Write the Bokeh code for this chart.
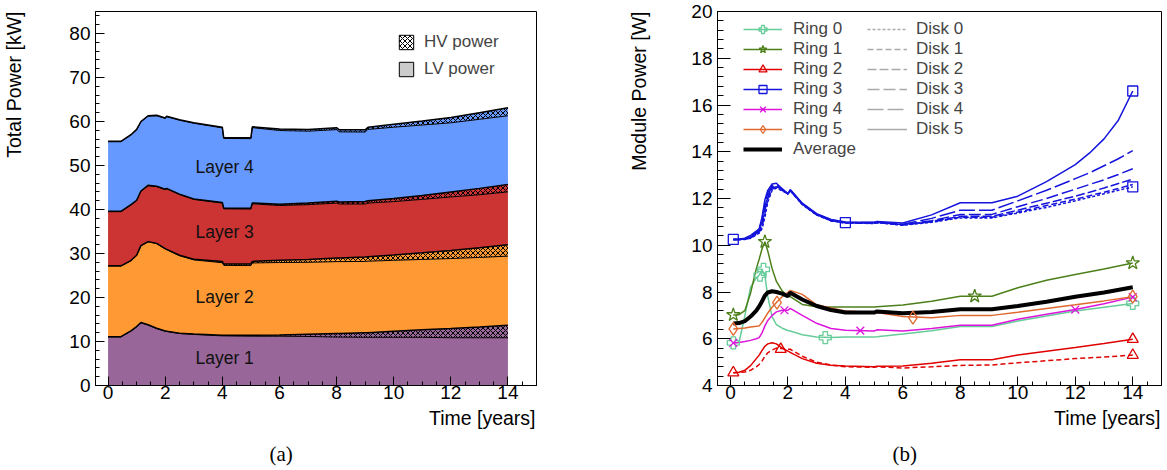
import numpy as np
from bokeh.plotting import figure
from bokeh.models import Range1d, SingleIntervalTicker, Label, Legend, LegendItem, Title
from bokeh.layouts import row
from bokeh.embed import file_html
from bokeh.resources import INLINE

FONT = "Liberation Sans"
SERIF = "Liberation Serif"

# ---------------- panel (a): stacked total power per layer ----------------
t_a = [0, 0.45, 0.8, 1.0, 1.15, 1.4, 1.7, 2.0, 2.05, 2.5, 3.0, 4.0, 4.05, 5.0, 5.05,
       6.0, 7.0, 8.0, 8.1, 9.0, 9.1, 10.0, 11.0, 12.0, 13.0, 14.0]
# cumulative total (LV+HV) at the top of each layer, as read from the stack [kW]
layer1_top = [11.1, 11.1, 12.4, 13.4, 14.3, 13.8, 13.0, 12.4, 12.35, 11.9, 11.7, 11.4, 11.4, 11.4, 11.4,
              11.5, 11.65, 11.8, 11.8, 12.0, 12.0, 12.35, 12.65, 12.95, 13.3, 13.7]
layer2_top = [27.2, 27.2, 28.4, 29.6, 31.8, 32.7, 32.3, 31.1, 30.95, 29.6, 28.7, 28.2, 27.6, 27.6, 28.2,
              28.45, 28.65, 28.95, 28.95, 29.2, 29.25, 29.65, 30.15, 30.7, 31.3, 32.0]
layer3_top = [39.6, 39.6, 41.1, 42.1, 44.2, 45.5, 45.3, 44.6, 44.8, 43.5, 42.4, 41.6, 40.3, 40.3, 41.5,
              41.2, 41.5, 41.9, 41.7, 41.8, 42.0, 42.5, 43.2, 44.0, 44.8, 45.7]
layer4_top = [55.5, 55.5, 57.0, 58.2, 60.0, 61.3, 61.4, 60.8, 61.2, 60.4, 59.7, 58.7, 56.3, 56.3, 58.8,
              58.3, 58.2, 58.6, 58.1, 58.1, 58.7, 59.4, 60.1, 60.9, 62.0, 63.1]
# HV power of each layer [kW]
layer1_hv = [0.05, 0.05, 0.05, 0.05, 0.05, 0.05, 0.05, 0.05, 0.05, 0.08, 0.1, 0.12, 0.12, 0.2, 0.2,
             0.3, 0.5, 0.8, 0.8, 1.05, 1.05, 1.4, 1.7, 2.1, 2.45, 2.85]
layer2_hv = [0.05, 0.05, 0.05, 0.05, 0.05, 0.05, 0.05, 0.05, 0.05, 0.1, 0.15, 0.3, 0.3, 0.35, 0.35,
             0.5, 0.65, 0.8, 0.8, 1.0, 1.0, 1.2, 1.5, 1.85, 2.2, 2.6]
layer3_hv = [0.1, 0.1, 0.1, 0.1, 0.1, 0.1, 0.1, 0.1, 0.1, 0.1, 0.1, 0.15, 0.15, 0.2, 0.2,
             0.3, 0.4, 0.45, 0.45, 0.55, 0.55, 0.7, 0.9, 1.15, 1.45, 1.7]
layer4_hv = [0.1, 0.1, 0.1, 0.1, 0.1, 0.1, 0.1, 0.1, 0.1, 0.1, 0.1, 0.15, 0.15, 0.2, 0.2,
             0.35, 0.4, 0.45, 0.45, 0.5, 0.5, 0.7, 0.9, 1.2, 1.5, 1.8]
layer_names = ["Layer 1", "Layer 2", "Layer 3", "Layer 4"]
layer_colors = ["#986699", "#FF9933", "#CC3333", "#6699FF"]
layer_label_x = [3.06, 3.06, 3.06, 3.06]
layer_label_y = [6.2, 20.2, 34.8, 49.7]

# ---------------- panel (b): module power per ring ----------------
t_b = [0.1, 0.3, 0.5, 0.7, 0.9, 1.0, 1.1, 1.2, 1.3, 1.45, 1.6, 1.8, 2.0, 2.08, 2.5,
       3.0, 3.5, 4.0, 5.0, 5.1, 6.0, 7.0, 8.0, 9.1, 10.0, 11.0, 12.0, 13.0, 14.0]
ring0 = [5.82, 5.85, 6.97, 8.2, 8.6, 8.72, 8.95, 8.7, 7.8, 6.95, 6.6, 6.45, 6.35, 6.33, 6.17,
         6.07, 6.05, 6.07, 6.08, 6.09, 6.2, 6.34, 6.52, 6.52, 6.76, 6.97, 7.19, 7.35, 7.51]
ring1 = [7.02, 7.03, 7.2, 7.95, 9.0, 9.4, 9.85, 10.15, 9.75, 9.0, 8.45, 8.05, 7.82, 7.8, 7.47,
         7.37, 7.36, 7.36, 7.36, 7.37, 7.44, 7.6, 7.82, 7.82, 8.18, 8.5, 8.75, 8.98, 9.24]
ring2_disk5 = [4.55, 4.57, 4.65, 4.85, 5.15, 5.3, 5.5, 5.68, 5.78, 5.83, 5.78, 5.6, 5.47, 5.42, 5.15,
               4.95, 4.87, 4.83, 4.8, 4.82, 4.83, 4.95, 5.1, 5.1, 5.3, 5.47, 5.63, 5.8, 5.98]
ring2_disk0 = [4.55, 4.56, 4.58, 4.65, 4.8, 4.9, 5.05, 5.25, 5.4, 5.52, 5.6, 5.58, 5.55, 5.55, 5.25,
               5.0, 4.88, 4.8, 4.78, 4.8, 4.75, 4.8, 4.86, 4.88, 4.97, 5.06, 5.15, 5.22, 5.3]
ring4 = [5.82, 5.84, 5.88, 5.93, 6.0, 6.05, 6.25, 6.55, 6.78, 7.0, 7.15, 7.22, 7.22, 7.3, 7.0,
         6.66, 6.44, 6.36, 6.33, 6.38, 6.33, 6.44, 6.58, 6.58, 6.83, 7.05, 7.25, 7.5, 7.78]
ring5 = [6.42, 6.44, 6.46, 6.5, 6.53, 6.55, 6.7, 6.9, 7.1, 7.35, 7.55, 7.8, 7.98, 8.07, 7.9,
         7.45, 7.32, 7.19, 7.12, 7.12, 6.95, 6.9, 7.0, 7.0, 7.13, 7.29, 7.45, 7.62, 7.8]
average = [6.65, 6.67, 6.75, 6.95, 7.2, 7.38, 7.6, 7.85, 7.98, 8.03, 8.0, 7.93, 7.82, 7.97, 7.68,
           7.4, 7.23, 7.12, 7.12, 7.17, 7.09, 7.14, 7.26, 7.26, 7.4, 7.58, 7.8, 7.98, 8.2]

# Ring 3: one curve per disk (finer sampling at the end where they fan out)
t_r3 = [0.1, 0.3, 0.5, 0.7, 0.9, 1.0, 1.1, 1.2, 1.3, 1.45, 1.6, 1.8, 2.0, 2.08, 2.5,
        3.0, 3.5, 4.0, 5.0, 5.1, 6.0, 7.0, 8.0, 9.1, 10.0, 11.0, 12.0, 12.5, 13.0, 13.5, 14.0]
ring3_disk5 = [10.25, 10.26, 10.3, 10.42, 10.6, 10.7, 11.2, 11.95, 12.35, 12.62, 12.65, 12.42, 12.2, 12.38, 11.8,
               11.35, 11.1, 11.0, 10.98, 11.02, 10.95, 11.3, 11.82, 11.82, 12.1, 12.72, 13.45, 13.95, 14.55, 15.35, 16.6]
ring3_disk4 = [10.25, 10.25, 10.28, 10.38, 10.57, 10.68, 11.1, 11.8, 12.25, 12.55, 12.58, 12.4, 12.2, 12.37, 11.78,
               11.33, 11.08, 10.98, 10.97, 11.0, 10.9, 11.15, 11.5, 11.5, 11.9, 12.35, 12.85, 13.1, 13.4, 13.7, 14.05]
ring3_disk3 = [10.25, 10.25, 10.27, 10.35, 10.53, 10.63, 11.0, 11.65, 12.15, 12.5, 12.55, 12.38, 12.2, 12.36, 11.77,
               11.32, 11.07, 10.97, 10.96, 10.99, 10.88, 11.05, 11.32, 11.32, 11.65, 12.0, 12.4, 12.6, 12.8, 13.03, 13.27]
ring3_disk2 = [10.25, 10.25, 10.26, 10.33, 10.5, 10.58, 10.9, 11.5, 12.05, 12.45, 12.5, 12.37, 12.2, 12.35, 11.76,
               11.31, 11.06, 10.96, 10.95, 10.98, 10.88, 11.02, 11.24, 11.24, 11.5, 11.8, 12.1, 12.27, 12.45, 12.64, 12.83]
ring3_disk1 = [10.25, 10.25, 10.26, 10.31, 10.47, 10.55, 10.8, 11.35, 11.95, 12.4, 12.47, 12.35, 12.2, 12.34, 11.75,
               11.3, 11.05, 10.95, 10.94, 10.97, 10.87, 11.0, 11.2, 11.2, 11.42, 11.7, 11.97, 12.12, 12.27, 12.43, 12.6]
ring3_disk0 = [10.25, 10.25, 10.25, 10.3, 10.45, 10.52, 10.7, 11.2, 11.85, 12.35, 12.45, 12.33, 12.2, 12.33, 11.74,
               11.29, 11.04, 10.95, 10.93, 10.96, 10.86, 10.98, 11.17, 11.17, 11.38, 11.62, 11.9, 12.05, 12.2, 12.35, 12.5]

# marker points drawn on the curves
mk0_t = [0.1, 1.03, 1.15, 3.3, 14.0];  mk0_v = [5.82, 8.72, 8.97, 6.05, 7.51]
mk1_t = [0.1, 1.2, 8.5, 14.0];         mk1_v = [7.02, 10.15, 7.82, 9.24]
mk2_t = [0.1, 1.75, 14.0, 14.0];       mk2_v = [4.55, 5.55, 5.98, 5.3]
mk3_t = [0.1, 4.0, 14.0, 14.0];        mk3_v = [10.25, 10.97, 16.6, 12.5]
mk4_t = [0.1, 1.88, 4.52, 12.0, 14.0]; mk4_v = [5.82, 7.22, 6.35, 7.25, 7.78]
mk5_t = [0.1, 1.62, 6.35, 14.0];       mk5_v = [6.42, 7.55, 6.9, 7.8]

ring_names = ["Ring 0", "Ring 1", "Ring 2", "Ring 3", "Ring 4", "Ring 5"]
ring_colors = ["#66CC99", "#4D801A", "#E00000", "#1414DC", "#DC14DC", "#E0682F"]
ring_markers = ["plus", "star", "triangle", "square", "x", "diamond"]
ring_msize = [12, 14, 11, 10, 11, 13]
disk_names = ["Disk 0", "Disk 1", "Disk 2", "Disk 3", "Disk 4", "Disk 5"]
disk_dash = ["3 2", "6 3", "9 3", "12 4", "16 4", "solid"]

H = 470


def style(p, y_interval, y_major_in, y_minor_in, spacer):
    p.xgrid.visible = False
    p.ygrid.visible = False
    p.outline_line_color = "black"
    p.outline_line_width = 1
    p.outline_line_alpha = 1
    p.xaxis.ticker = SingleIntervalTicker(interval=2, num_minor_ticks=4)
    p.yaxis.ticker = SingleIntervalTicker(interval=y_interval, num_minor_ticks=5)
    for ax in (p.xaxis[0], p.yaxis[0]):
        ax.axis_line_color = "black"
        ax.major_tick_line_color = "black"
        ax.minor_tick_line_color = "black"
        ax.major_tick_out = 0
        ax.minor_tick_out = 0
        ax.major_label_text_font = FONT
        ax.major_label_text_font_size = "19px"
        ax.major_label_text_color = "black"
    p.xaxis.major_tick_in = 9
    p.xaxis.minor_tick_in = 4
    p.yaxis.major_tick_in = y_major_in
    p.yaxis.minor_tick_in = y_minor_in
    p.xaxis.major_label_standoff = 0
    p.yaxis.major_label_standoff = 5
    # invisible spacer label: pushes the y title away from the tick labels
    p.yaxis.axis_label = " "
    p.yaxis.axis_label_text_font_size = "1px"
    p.yaxis.axis_label_text_alpha = 0
    p.yaxis.axis_label_standoff = spacer


def titles(p, ytitle, cap, cap_offset):
    p.add_layout(Title(text=ytitle, align="right", vertical_align="bottom", offset=0, standoff=0,
                       text_font=FONT, text_font_size="19.5px", text_font_style="normal",
                       text_color="black"), "left")
    p.add_layout(Title(text="Time [years]", align="right", vertical_align="top", offset=1, standoff=10,
                       text_font=FONT, text_font_size="19.5px", text_font_style="normal",
                       text_color="black"), "below")
    p.add_layout(Title(text=cap, align="left", vertical_align="bottom", offset=cap_offset, standoff=9,
                       text_font=SERIF, text_font_size="21px", text_font_style="normal",
                       text_color="black"), "below")


# ---------------- figure (a) ----------------
p1 = figure(width=610, height=H, x_range=Range1d(-0.44, 15), y_range=Range1d(0, 85),
            output_backend="svg", toolbar_location=None,
            min_border_left=91, min_border_right=74, min_border_top=9, min_border_bottom=85)
style(p1, 10, 9, 4, 38)

tops = [np.array(layer1_top), np.array(layer2_top), np.array(layer3_top), np.array(layer4_top)]
hvs = [np.array(layer1_hv), np.array(layer2_hv), np.array(layer3_hv), np.array(layer4_hv)]
HATCH = dict(hatch_pattern="diagonal_cross", hatch_color="black", hatch_scale=5, hatch_weight=1)
base = np.zeros(len(t_a))
lv_tops = []
for i in range(4):
    lv_top = tops[i] - hvs[i]
    lv_tops.append(lv_top)
    p1.varea(x=t_a, y1=base, y2=lv_top, fill_color=layer_colors[i])
    p1.varea(x=t_a, y1=lv_top, y2=tops[i], fill_color=layer_colors[i], **HATCH)
    base = tops[i]
for i in range(4):
    p1.line(t_a, lv_tops[i], line_color="black", line_width=1)
    p1.line(t_a, tops[i], line_color="black", line_width=1.5)
for i in range(4):
    p1.add_layout(Label(x=layer_label_x[i], y=layer_label_y[i], text=layer_names[i],
                        text_baseline="middle", text_font=FONT, text_font_size="17.5px",
                        text_color="#111111"))

nan1 = [np.nan]
hv_key = p1.quad(left=nan1, right=nan1, top=nan1, bottom=nan1, fill_color="white",
                 line_color="black", line_width=1, **HATCH)
lv_key = p1.quad(left=nan1, right=nan1, top=nan1, bottom=nan1, fill_color="#CCCCCC",
                 line_color="black", line_width=1)
leg_a = Legend(items=[LegendItem(label="HV power", renderers=[hv_key]),
                      LegendItem(label="LV power", renderers=[lv_key])],
               location=(302, 306), padding=0, margin=0, spacing=7,
               glyph_width=18, glyph_height=18, label_height=18, label_standoff=9,
               label_text_font=FONT, label_text_font_size="17px",
               border_line_alpha=0, background_fill_alpha=0)
p1.add_layout(leg_a)
titles(p1, "Total Power [kW]", "(a)", 174)

# ---------------- figure (b) ----------------
p2 = figure(width=557, height=H, x_range=Range1d(-0.45, 15), y_range=Range1d(4, 20),
            output_backend="svg", toolbar_location=None,
            min_border_left=107, min_border_right=6, min_border_top=11, min_border_bottom=85)
style(p2, 2, 13, 6, 35)

LW = 1.5
ring3_disks = [ring3_disk0, ring3_disk1, ring3_disk2, ring3_disk3, ring3_disk4, ring3_disk5]
r3_lines = []
for d in range(6):
    r3_lines.append(p2.line(t_r3, ring3_disks[d], line_color=ring_colors[3], line_width=LW,
                            line_dash=disk_dash[d]))
r2_solid = p2.line(t_b, ring2_disk5, line_color=ring_colors[2], line_width=LW)
p2.line(t_b, ring2_disk0, line_color=ring_colors[2], line_width=LW, line_dash="5 3")
r0_line = p2.line(t_b, ring0, line_color=ring_colors[0], line_width=LW)
r1_line = p2.line(t_b, ring1, line_color=ring_colors[1], line_width=LW)
r4_line = p2.line(t_b, ring4, line_color=ring_colors[4], line_width=LW)
r5_line = p2.line(t_b, ring5, line_color=ring_colors[5], line_width=LW)
avg_line = p2.line(t_b, average, line_color="black", line_width=4)

ring_lines = [r0_line, r1_line, r2_solid, r3_lines[5], r4_line, r5_line]
mk_t = [mk0_t, mk1_t, mk2_t, mk3_t, mk4_t, mk5_t]
mk_v = [mk0_v, mk1_v, mk2_v, mk3_v, mk4_v, mk5_v]
ring_scatter = []
for i in range(6):
    ring_scatter.append(p2.scatter(mk_t[i], mk_v[i], marker=ring_markers[i], size=ring_msize[i],
                                   line_color=ring_colors[i], line_width=1.3, fill_color=None))

ring_items = [LegendItem(label=ring_names[i], renderers=[ring_lines[i], ring_scatter[i]]) for i in range(6)]
ring_items.append(LegendItem(label="Average", renderers=[avg_line]))
leg_ring = Legend(items=ring_items, location=(26, 226.5), padding=0, margin=0, spacing=0,
                  glyph_width=39, glyph_height=20, label_height=20, label_standoff=11,
                  label_text_font=FONT, label_text_font_size="17px",
                  border_line_alpha=0, background_fill_alpha=0)
p2.add_layout(leg_ring)

disk_keys = [p2.line(x=nan1, y=nan1, line_color="#AAAAAA", line_width=1.5, line_dash=disk_dash[d])
             for d in range(6)]
leg_disk = Legend(items=[LegendItem(label=disk_names[d], renderers=[disk_keys[d]]) for d in range(6)],
                  location=(150, 246.5), padding=0, margin=0, spacing=0,
                  glyph_width=40, glyph_height=20, label_height=20, label_standoff=9,
                  label_text_font=FONT, label_text_font_size="17px",
                  border_line_alpha=0, background_fill_alpha=0)
p2.add_layout(leg_disk)
titles(p2, "Module Power [W]", "(b)", 175)

layout = row(p1, p2)
open("out.html", "w").write(file_html(layout, INLINE))
